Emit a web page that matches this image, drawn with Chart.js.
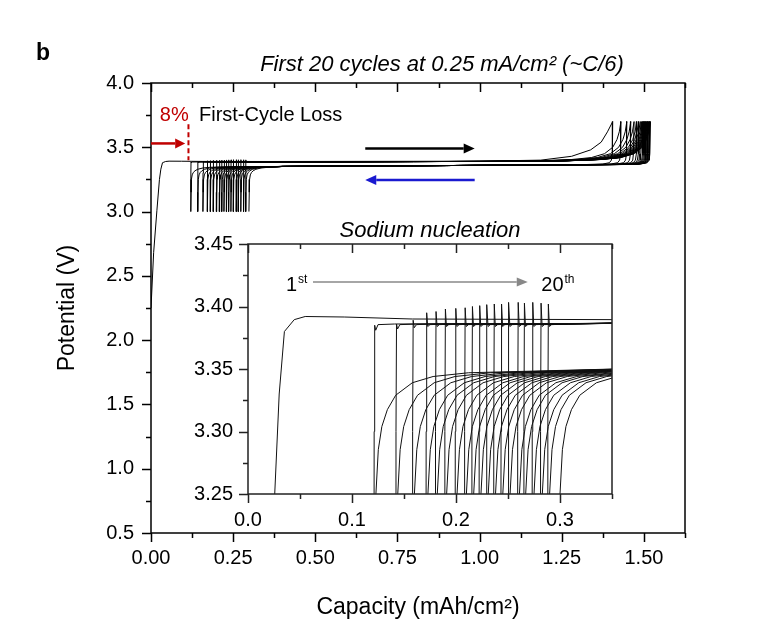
<!DOCTYPE html>
<html>
<head>
<meta charset="utf-8">
<title>First 20 cycles - sodium nucleation</title>
<script src="https://cdn.jsdelivr.net/npm/chart.js@4.4.1/dist/chart.umd.min.js"></script>
<style>
  body { margin: 0; background: #fff; }
  #wrap { position: relative; width: 783px; height: 633px; overflow: hidden; }
  #mainChart { position: absolute; left: 0; top: 0; }
  #insetChart { position: absolute; left: 150px; top: 200px; }
</style>
</head>
<body>
<div id="wrap">
  <canvas id="mainChart" width="783" height="633"></canvas>
  <canvas id="insetChart" width="480" height="330"></canvas>
</div>
<script>
// ---- data (capacity in mAh/cm2, potential in V) ----

// first charge of cycle 1 (starts from rest, no previous discharge)
const firstChargeX = [0, 0.008, 0.018, 0.0257, 0.030, 0.035, 0.037, 0.0445, 0.055, 0.0925, 0.158, 0.35, 0.8, 1.0, 1.186, 1.28, 1.338, 1.37, 1.389, 1.405];
const firstChargeV = [2.25, 2.68, 3.01, 3.25, 3.33, 3.380, 3.382, 3.3895, 3.392, 3.3916, 3.390, 3.3895, 3.391, 3.392, 3.40, 3.43, 3.48, 3.54, 3.62, 3.70];

// per cycle (1..20)
const chargeStartX = [0, 0.121, 0.142, 0.158, 0.171, 0.180, 0.189, 0.199, 0.208, 0.215, 0.222, 0.229, 0.236, 0.243, 0.250, 0.259, 0.265, 0.273, 0.281, 0.288];
const chargeEndX = [1.405, 1.430, 1.448, 1.460, 1.470, 1.478, 1.484, 1.489, 1.493, 1.497, 1.500, 1.503, 1.506, 1.508, 1.510, 1.512, 1.514, 1.516, 1.518, 1.520];
const dischargeEndX = [0.121, 0.142, 0.158, 0.171, 0.180, 0.189, 0.199, 0.208, 0.215, 0.222, 0.229, 0.236, 0.243, 0.250, 0.259, 0.265, 0.273, 0.281, 0.288, 0.298];
const nucleationPeakV = [null, 3.385, 3.386, 3.389, 3.395, 3.396, 3.398, 3.3985, 3.399, 3.400, 3.4007, 3.4015, 3.402, 3.402, 3.4033, 3.4033, 3.4027, 3.4033, 3.4027, 3.402];
const afterPeakV = [null, 3.381, 3.382, 3.383, 3.384, 3.384, 3.384, 3.384, 3.384, 3.384, 3.384, 3.384, 3.384, 3.384, 3.384, 3.384, 3.384, 3.384, 3.384, 3.384];

// shared curve shapes (offsets from the per-cycle positions)
const riseOffsetX = [0, 0.0003, 0.0008, 0.0018, 0.004, 0.02];
const riseV = [3.00, 3.30, null, null, 3.3855, 3.386];
const chargePlateauX = [0.35, 0.8];
const chargePlateauV = [3.3865, 3.389];
const chargeTailOffsetX = [-0.45, -0.25, -0.15, -0.09, -0.05, -0.025, -0.012, -0.005, 0];
const chargeTailV = [3.39, 3.395, 3.405, 3.42, 3.45, 3.50, 3.56, 3.62, 3.70];
const dischargeTopOffsetX = [0, -0.002, -0.004, -0.01, -0.03, -0.08];
const dischargeTopV = [3.70, 3.45, 3.40, 3.38, 3.37, 3.366];
const dischargePlateauX = [1.2, 0.9, 0.6, 0.4];
const dischargePlateauV = [3.362, 3.358, 3.354, 3.351];
const kneeOffsetX = [0.091, 0.057, 0.037, 0.021, 0.013, 0.0077, 0.0043, 0.002, 0.001, 0];
const kneeV = [3.347, 3.344, 3.339, 3.329, 3.3175, 3.304, 3.2855, 3.25, 3.15, 3.00];

// ticks
const mainXTicks = [0, 0.25, 0.5, 0.75, 1.0, 1.25, 1.5];
const mainXMinor = [0.125, 0.375, 0.625, 0.875, 1.125, 1.375, 1.625];
const mainYTicks = [0.5, 1.0, 1.5, 2.0, 2.5, 3.0, 3.5, 4.0];
const mainYMinor = [0.75, 1.25, 1.75, 2.25, 2.75, 3.25, 3.75];
const insetXTicks = [0, 0.1, 0.2, 0.3];
const insetXMinor = [0.05, 0.15, 0.25, 0.35];
const insetYTicks = [3.25, 3.30, 3.35, 3.40, 3.45];
const insetYMinor = [3.275, 3.325, 3.375, 3.425];

const FONT = '"Liberation Sans", Arial, Helvetica, sans-serif';
Chart.defaults.font.family = FONT;
Chart.defaults.color = '#000';

function cyclePoints(i) {
    const pts = [];
    if (i === 0) {
        firstChargeX.forEach((cx, k) => pts.push({ x: cx, y: firstChargeV[k] }));
    } else {
        riseOffsetX.forEach((dx, k) => {
            let v = riseV[k];
            if (k === 2) v = nucleationPeakV[i];
            if (k === 3) v = afterPeakV[i];
            pts.push({ x: chargeStartX[i] + dx, y: v });
        });
        chargePlateauX.forEach((cx, k) => pts.push({ x: cx, y: chargePlateauV[k] }));
        chargeTailOffsetX.forEach((dx, k) => pts.push({ x: chargeEndX[i] + dx, y: chargeTailV[k] }));
    }
    dischargeTopOffsetX.forEach((dx, k) => pts.push({ x: chargeEndX[i] + dx, y: dischargeTopV[k] }));
    dischargePlateauX.forEach((cx, k) => pts.push({ x: cx, y: dischargePlateauV[k] }));
    kneeOffsetX.forEach((dx, k) => pts.push({ x: dischargeEndX[i] + dx, y: kneeV[k] }));
    return pts;
}

function buildDatasets(color) {
    return chargeStartX.map((_, i) => ({
        label: 'Cycle ' + (i + 1),
        data: cyclePoints(i),
        showLine: true,
        borderColor: color,
        borderWidth: 1,
        pointRadius: 0,
        fill: false,
        tension: 0
    }));
}

function drawArrow(ctx, x1, y1, x2, y2, color, width, head, half) {
    const ang = Math.atan2(y2 - y1, x2 - x1);
    const bx = x2 - head * Math.cos(ang);
    const by = y2 - head * Math.sin(ang);
    ctx.strokeStyle = color;
    ctx.fillStyle = color;
    ctx.lineWidth = width;
    ctx.beginPath();
    ctx.moveTo(x1, y1);
    ctx.lineTo(bx, by);
    ctx.stroke();
    ctx.beginPath();
    ctx.moveTo(x2, y2);
    ctx.lineTo(bx - half * Math.sin(ang), by + half * Math.cos(ang));
    ctx.lineTo(bx + half * Math.sin(ang), by - half * Math.cos(ang));
    ctx.closePath();
    ctx.fill();
}

// box + tick marks (outward on left/bottom, inward on top)
function drawFrame(chart, t) {
    const { ctx, chartArea: a, scales: { x, y } } = chart;
    ctx.save();
    ctx.strokeStyle = t.color;
    ctx.lineWidth = t.width;
    ctx.beginPath();
    const xt = (vals, len) => vals.forEach(v => {
        const px = Math.round(x.getPixelForValue(v)) + 0.5;
        ctx.moveTo(px, a.bottom); ctx.lineTo(px, a.bottom + len);
        ctx.moveTo(px, a.top); ctx.lineTo(px, a.top + len);
    });
    const yt = (vals, len) => vals.forEach(v => {
        const py = Math.round(y.getPixelForValue(v)) + 0.5;
        ctx.moveTo(a.left - len, py); ctx.lineTo(a.left, py);
    });
    xt(t.xMajor, t.major); xt(t.xMinor, t.minor);
    yt(t.yMajor, t.major); yt(t.yMinor, t.minor);
    ctx.stroke();
    ctx.strokeRect(a.left, a.top, a.right - a.left, a.bottom - a.top);
    ctx.restore();
}

const mainDecor = {
    id: 'mainDecor',
    afterDraw(chart) {
        const { ctx, scales: { x, y } } = chart;
        drawFrame(chart, { color: '#000', width: 1.5, major: 9, minor: 5,
            xMajor: mainXTicks, xMinor: mainXMinor, yMajor: mainYTicks, yMinor: mainYMinor });
        ctx.save();
        ctx.textBaseline = 'alphabetic';
        // panel letter
        ctx.fillStyle = '#000';
        ctx.font = 'bold 23px ' + FONT;
        ctx.textAlign = 'left';
        ctx.fillText('b', 36, 60);
        // title
        ctx.font = 'italic 22px ' + FONT;
        ctx.textAlign = 'center';
        ctx.fillText('First 20 cycles at 0.25 mA/cm² (~C/6)', 442, 71);
        // first-cycle loss
        ctx.textAlign = 'left';
        ctx.font = '20px ' + FONT;
        ctx.fillStyle = '#c00000';
        ctx.fillText('8%', x.getPixelForValue(0.027), y.getPixelForValue(3.7045));
        ctx.fillStyle = '#000';
        ctx.fillText('First-Cycle Loss', x.getPixelForValue(0.146), y.getPixelForValue(3.7045));
        drawArrow(ctx, x.getPixelForValue(0), y.getPixelForValue(3.53), x.getPixelForValue(0.104), y.getPixelForValue(3.53), '#c00000', 2.5, 10, 5);
        ctx.strokeStyle = '#c00000';
        ctx.lineWidth = 2;
        ctx.setLineDash([5, 3]);
        ctx.beginPath();
        ctx.moveTo(x.getPixelForValue(0.114), y.getPixelForValue(3.68));
        ctx.lineTo(x.getPixelForValue(0.114), y.getPixelForValue(3.40));
        ctx.stroke();
        ctx.setLineDash([]);
        // charge / discharge direction
        drawArrow(ctx, x.getPixelForValue(0.652), y.getPixelForValue(3.49), x.getPixelForValue(0.985), y.getPixelForValue(3.49), '#000', 2.5, 11, 5);
        drawArrow(ctx, x.getPixelForValue(0.985), y.getPixelForValue(3.246), x.getPixelForValue(0.652), y.getPixelForValue(3.246), '#1a1ad0', 2.5, 11, 5);
        ctx.restore();
    }
};

const insetDecor = {
    id: 'insetDecor',
    afterDraw(chart) {
        const { ctx, scales: { x, y } } = chart;
        drawFrame(chart, { color: '#222', width: 1.5, major: 9, minor: 5,
            xMajor: insetXTicks, xMinor: insetXMinor, yMajor: insetYTicks, yMinor: insetYMinor });
        ctx.save();
        ctx.fillStyle = '#000';
        ctx.textBaseline = 'alphabetic';
        ctx.font = 'italic 22px ' + FONT;
        ctx.textAlign = 'center';
        ctx.fillText('Sodium nucleation', x.getPixelForValue(0.175), y.getPixelForValue(3.4556));
        // 1st -> 20th
        ctx.textAlign = 'left';
        const base = y.getPixelForValue(3.4124);
        let px = x.getPixelForValue(0.0365);
        ctx.font = '20px ' + FONT;
        ctx.fillText('1', px, base);
        px += ctx.measureText('1').width + 1;
        ctx.font = '12px ' + FONT;
        ctx.fillText('st', px, base - 8);
        px = x.getPixelForValue(0.282);
        ctx.font = '20px ' + FONT;
        ctx.fillText('20', px, base);
        px += ctx.measureText('20').width + 1;
        ctx.font = '12px ' + FONT;
        ctx.fillText('th', px, base - 8);
        const ay = y.getPixelForValue(3.4196);
        drawArrow(ctx, x.getPixelForValue(0.0625), ay, x.getPixelForValue(0.269), ay, '#888', 1.5, 11, 4.5);
        ctx.restore();
    }
};

function axisCommon(tickVals, digits, size, pad) {
    return {
        type: 'linear',
        afterBuildTicks: s => { s.ticks = tickVals.map(v => ({ value: v })); },
        ticks: { callback: v => Number(v).toFixed(digits), font: { size: size }, color: '#000', padding: pad, autoSkip: false, maxRotation: 0 },
        grid: { drawOnChartArea: false, drawTicks: true, tickLength: 9, tickColor: 'rgba(0,0,0,0)' },
        border: { display: false }
    };
}

new Chart(document.getElementById('mainChart'), {
    type: 'scatter',
    data: { datasets: buildDatasets('#000') },
    options: {
        responsive: false,
        animation: false,
        events: [],
        layout: { padding: { left: 0, top: 83, right: 98, bottom: 0 } },
        plugins: { legend: { display: false }, tooltip: { enabled: false } },
        scales: {
            x: Object.assign(axisCommon(mainXTicks, 2, 20, 4), {
                min: 0, max: 1.625,
                afterFit: s => { s.height = 100; },
                title: { display: true, text: 'Capacity (mAh/cm²)', font: { size: 23 }, color: '#000', padding: { top: 0, bottom: 12 } }
            }),
            y: Object.assign(axisCommon(mainYTicks, 1, 20, 8), {
                min: 0.5, max: 4.0,
                afterFit: s => { s.width = 151; },
                title: { display: true, text: 'Potential (V)', font: { size: 23 }, color: '#000', padding: { top: 54, bottom: 0 } }
            })
        }
    },
    plugins: [mainDecor]
});

new Chart(document.getElementById('insetChart'), {
    type: 'scatter',
    data: { datasets: buildDatasets('#111') },
    options: {
        responsive: false,
        animation: false,
        events: [],
        layout: { padding: { left: 0, top: 44, right: 18, bottom: 0 } },
        plugins: { legend: { display: false }, tooltip: { enabled: false } },
        scales: {
            x: Object.assign(axisCommon(insetXTicks, 1, 20, 5), {
                min: 0, max: 0.35,
                afterFit: s => { s.height = 36; }
            }),
            y: Object.assign(axisCommon(insetYTicks, 2, 20, 6), {
                min: 3.25, max: 3.45,
                afterFit: s => { s.width = 98; }
            })
        }
    },
    plugins: [insetDecor]
});
</script>
</body>
</html>
